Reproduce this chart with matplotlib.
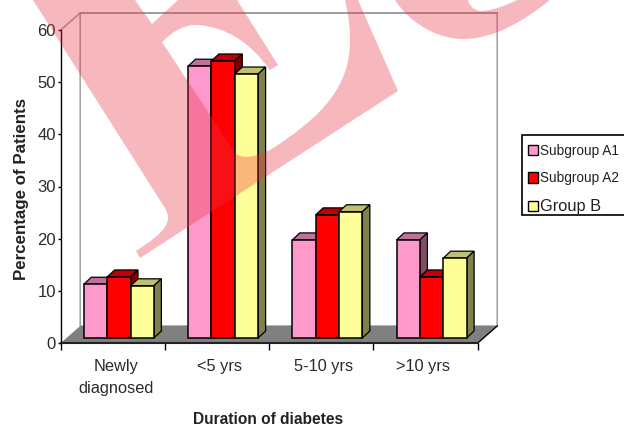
import matplotlib
matplotlib.use('Agg')
import matplotlib.pyplot as plt
from matplotlib.patches import Polygon, Patch, PathPatch, Rectangle
from matplotlib.path import Path

plt.rcParams['font.family'] = ['Liberation Sans', 'DejaVu Sans']

categories = ['Newly\ndiagnosed', '<5 yrs', '5-10 yrs', '>10 yrs']
subgroup_a1 = [10.3, 52.1, 18.8, 18.8]
subgroup_a2 = [11.7, 53.1, 23.6, 11.7]
group_b = [10.0, 50.6, 24.2, 15.3]
y_ticks = [0, 10, 20, 30, 40, 50, 60]

series_names = ['Subgroup A1', 'Subgroup A2', 'Group B']
series_values = [subgroup_a1, subgroup_a2, group_b]
front_cols = ['#ff99cc', '#ff0000', '#ffff99']
top_cols = ['#c0739a', '#c00000', '#c0c073']
side_cols = ['#804d66', '#800000', '#80804d']

W, H = 624, 428
fig = plt.figure(figsize=(W / 100, H / 100), dpi=100, facecolor='white')

# plot area in pixels
left, right, top, bottom = 60.7, 477.7, 30, 343
ax = fig.add_axes([left / W, 1 - bottom / H, (right - left) / W, (bottom - top) / H])
ax.set_xlim(0, 4)
ax.set_ylim(0, 60)
ax.patch.set_visible(False)

ux = (right - left) / 4   # pixels per category
uy = (bottom - top) / 60  # pixels per percent


def px(dx, dy):
    return dx / ux, dy / uy


# back wall and floor of the fake 3D box
wx, wy = px(19.5, 17)
ax.plot([0, wx, wx, 4 + wx, 4 + wx], [60, 60 + wy, wy, wy, 60 + wy], color='#a6a6a6', lw=1.2, clip_on=False, zorder=1)
ax.plot([wx, 4 + wx], [60 + wy, 60 + wy], color='#8c8c8c', lw=1.2, clip_on=False, zorder=1)
ax.add_patch(Polygon([(0, 0), (4, 0), (4 + wx, wy), (wx, wy)], closed=True, fc='#808080', ec='none', clip_on=False, zorder=2))
ax.plot([4, 4 + wx], [0, wy], color='black', lw=1, clip_on=False, zorder=2)

# bars, left to right so each one covers the side of the one before
bar_w = 0.224
sx, sy = px(6, 5)
dx, dy = px(7.5, 7)
for i in range(len(categories)):
    for j, vals in enumerate(series_values):
        x0 = i + 0.5 + (j - 1.5) * bar_w + sx
        x1 = x0 + bar_w
        y1 = vals[i] + sy
        z = 3 + i + j * 0.1
        ax.add_patch(Polygon([(x0, y1), (x1, y1), (x1 + dx, y1 + dy), (x0 + dx, y1 + dy)], closed=True,
                             fc=top_cols[j], ec='black', lw=0.9, clip_on=False, zorder=z))
        ax.add_patch(Polygon([(x1, sy), (x1 + dx, sy + dy), (x1 + dx, y1 + dy), (x1, y1)], closed=True,
                             fc=side_cols[j], ec='black', lw=0.9, clip_on=False, zorder=z))
        ax.bar(x0, vals[i], bar_w, bottom=sy, align='edge', color=front_cols[j], edgecolor='black', lw=1.1, clip_on=False, zorder=z + 0.01)

# axes
for s in ['top', 'right']:
    ax.spines[s].set_visible(False)
ax.spines['left'].set_linewidth(1.0)
ax.spines['bottom'].set_linewidth(1.5)
ax.spines['bottom'].set_color('#222222')
ax.spines['left'].set_zorder(9)
ax.spines['bottom'].set_zorder(9)
ax.set_yticks(y_ticks)
ax.set_yticklabels([str(v) for v in y_ticks], fontsize=12, color='#2a2a2a')
ax.tick_params(axis='y', length=2.5, width=1, pad=1)
ax.set_xticks(range(5))
ax.set_xticklabels([])
ax.tick_params(axis='x', length=5, width=1)
label_nudge = [0.03, 0.02, 0.02, -0.02]
for i, c in enumerate(categories):
    ax.text(i + 0.5 + label_nudge[i], -3.0, c, ha='center', va='top', fontsize=11.8,
            color='#2a2a2a', linespacing=1.6)

fig.text(268 / W, 1 - 419 / H, 'Duration of diabetes', ha='center', va='center', fontsize=11.2, fontweight='bold', color='#222222')
fig.text(22 / W, 1 - 189 / H, 'Percentage of Patients', ha='center', va='center', rotation=90, fontsize=12.2,
         fontweight='bold', color='#222222')

# legend box runs off the right edge in the original too
fig.add_artist(Rectangle((522 / W, 1 - 215 / H), 110 / W, 80 / H, transform=fig.transFigure, fc='white', ec='black', lw=1.2, zorder=5))
handles = [Patch(fc=c, ec='black', lw=1) for c in front_cols]
leg = fig.legend(handles, series_names, loc='upper left', bbox_to_anchor=(528 / W, 1 - 144 / H), borderaxespad=0,
                 frameon=False, fontsize=9.8, labelspacing=0.98, borderpad=0,
                 handlelength=0.74, handleheight=0.8, handletextpad=0.15)
leg.set_zorder(6)
leg.get_texts()[2].set_fontsize(11.8)
for t in leg.get_texts():
    t.set_color('#222222')

# translucent watermark lying over everything, pixel outline from the picture
M, L, C3, C4, Z = Path.MOVETO, Path.LINETO, Path.CURVE3, Path.CURVE4, Path.CLOSEPOLY
letter = [(M, (33, 0)), (L, (135, 0)), (L, (152, 24)), (L, (178, 0)), (L, (237, 0)), (L, (278, 65)), (L, (270, 70)),
          (C3, (240, 28)), (C3, (198, 25)), (C3, (180, 24)), (C3, (162, 42)),
          (L, (235, 153)), (C3, (245, 162)), (C3, (270, 150)),
          (C4, (325, 115)), (C4, (350, 85)), (C4, (350, 40)), (C3, (350, 20)), (C3, (345, 0)),
          (L, (358, 0)), (L, (398, 91)), (L, (140, 258)), (L, (136, 251)),
          (C4, (165, 232)), (C4, (175, 222)), (C4, (163, 205)), (Z, (33, 0))]
arc = [(M, (395, 0)), (C4, (415, 30)), (C4, (445, 39)), (C4, (463, 39)), (C4, (495, 39)), (C4, (525, 20)), (C4, (550, 0)),
       (L, (517, 0)), (C3, (495, 11)), (C3, (480, 11)), (C3, (470, 9)), (C3, (468, 0)), (Z, (395, 0))]
for outline in (letter, arc):
    codes = [c for c, _ in outline]
    verts = [(p[0] / W, 1 - p[1] / H) for _, p in outline]
    fig.add_artist(PathPatch(Path(verts, codes), transform=fig.transFigure, fc=(234 / 255, 47 / 255, 64 / 255), alpha=0.34,
                             ec='none', zorder=20))

fig.savefig('out.png', dpi=100)
